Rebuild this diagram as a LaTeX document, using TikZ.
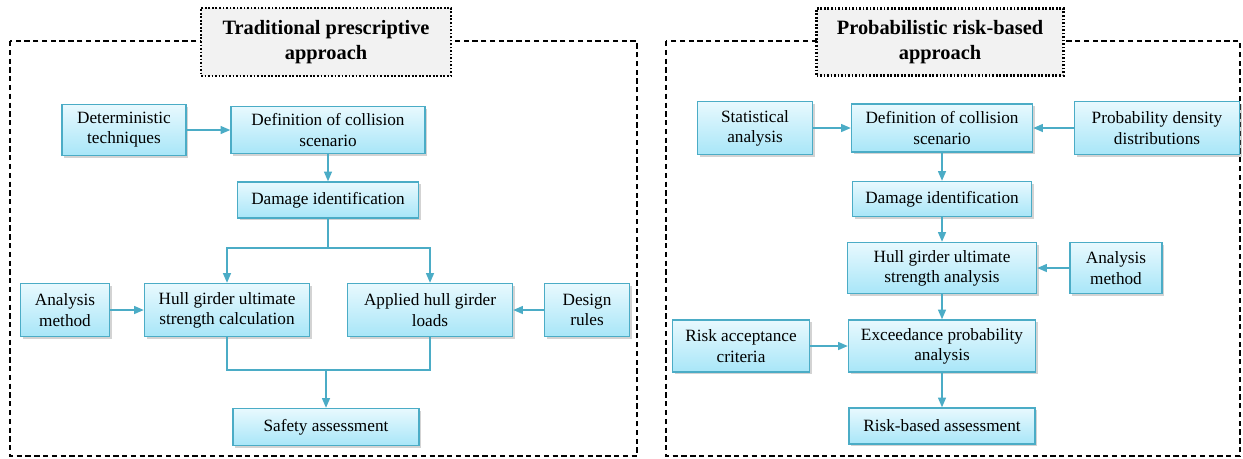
\documentclass[tikz,border=0pt]{standalone}
\usepackage{fontspec}
\setmainfont{Liberation Serif}
\usetikzlibrary{arrows.meta,shadows}
\definecolor{boxline}{HTML}{4BACC6}
\definecolor{boxtop}{HTML}{E8F9FE}
\definecolor{boxbot}{HTML}{A8E6F8}
\begin{document}
\begin{tikzpicture}[x=0.02cm,y=-0.02cm]
% Estilos
\tikzstyle{stage} = [rectangle, draw=boxline, line width=0.8pt, top color=boxtop, bottom color=boxbot, align=center, font=\fontsize{9.8}{11.5}\selectfont, inner sep=1pt, drop shadow={shadow xshift=1.2pt, shadow yshift=-1.2pt, opacity=0.35}]
\tikzstyle{flow} = [-{Triangle[length=5.5pt,width=4.5pt]}, draw=boxline, line width=0.8pt]
\tikzstyle{link} = [draw=boxline, line width=0.8pt]
\tikzstyle{panel} = [draw=black, line width=0.6pt, dash pattern=on 3pt off 2pt]
\tikzstyle{heading} = [rectangle, draw=black, fill=gray!10, line width=1.4pt, dash pattern=on 1pt off 1pt, align=center, font=\fontsize{11.6}{14}\selectfont\bfseries]

\useasboundingbox (0,0) rectangle (1243,458);

% Marcos
\draw[panel] (10,41) rectangle (637,456);
\draw[panel] (666,41) rectangle (1240,456);
\node[heading, minimum width=5.0cm, minimum height=1.36cm] (titleL) at (326,42) {Traditional prescriptive\\approach};
\node[heading, minimum width=4.94cm, minimum height=1.34cm] (titleR) at (940,42) {Probabilistic risk-based\\approach};

% Enfoque tradicional
\node[stage, minimum width=2.48cm, minimum height=1.02cm] (detL) at (124,130) {Deterministic\\techniques};
\node[stage, minimum width=3.88cm, minimum height=0.94cm] (defL) at (328,130) {Definition of collision\\scenario};
\node[stage, minimum width=3.62cm, minimum height=0.72cm] (dmgL) at (328,200) {Damage identification};
\node[stage, minimum width=3.3cm, minimum height=1.06cm] (hullL) at (227,310) {Hull girder ultimate\\strength calculation};
\node[stage, minimum width=3.3cm, minimum height=1.06cm] (loadsL) at (430,310) {Applied hull girder\\loads};
\node[stage, minimum width=1.78cm, minimum height=1.06cm] (methL) at (65,310) {Analysis\\method};
\node[stage, minimum width=1.7cm, minimum height=1.06cm] (rulesL) at (587,310) {Design\\rules};
\node[stage, minimum width=3.72cm, minimum height=0.74cm] (safeL) at (326,427) {Safety assessment};
\coordinate (splitL) at (328,248);
\coordinate (joinL) at (326,370);

\draw[flow] (detL) -- (defL);
\draw[flow] (defL) -- (dmgL);
\draw[link] (dmgL) -- (splitL);
\draw[flow] (splitL) -| (hullL);
\draw[flow] (splitL) -| (loadsL);
\draw[flow] (methL) -- (hullL);
\draw[flow] (rulesL) -- (loadsL);
\draw[link] (hullL) |- (joinL) -| (loadsL);
\draw[flow] (joinL) -- (safeL);

% Enfoque probabilista
\node[stage, minimum width=2.3cm, minimum height=1.06cm] (statR) at (755,128) {Statistical\\analysis};
\node[stage, minimum width=3.62cm, minimum height=0.96cm] (defR) at (942,128) {Definition of collision\\scenario};
\node[stage, minimum width=3.3cm, minimum height=1.06cm] (pddR) at (1157,128) {Probability density\\distributions};
\node[stage, minimum width=3.58cm, minimum height=0.7cm] (dmgR) at (942,199) {Damage identification};
\node[stage, minimum width=3.78cm, minimum height=1.02cm] (hullR) at (942,268) {Hull girder ultimate\\strength analysis};
\node[stage, minimum width=1.84cm, minimum height=1.02cm] (methR) at (1116,268) {Analysis\\method};
\node[stage, minimum width=2.74cm, minimum height=1.04cm] (critR) at (741,346) {Risk acceptance\\criteria};
\node[stage, minimum width=3.74cm, minimum height=1.04cm] (excR) at (942,346) {Exceedance probability\\analysis};
\node[stage, minimum width=3.72cm, minimum height=0.72cm] (riskR) at (942,426) {Risk-based assessment};

\draw[flow] (statR) -- (defR);
\draw[flow] (pddR) -- (defR);
\draw[flow] (defR) -- (dmgR);
\draw[flow] (dmgR) -- (hullR);
\draw[flow] (methR) -- (hullR);
\draw[flow] (hullR) -- (excR);
\draw[flow] (critR) -- (excR);
\draw[flow] (excR) -- (riskR);
\end{tikzpicture}
\end{document}
